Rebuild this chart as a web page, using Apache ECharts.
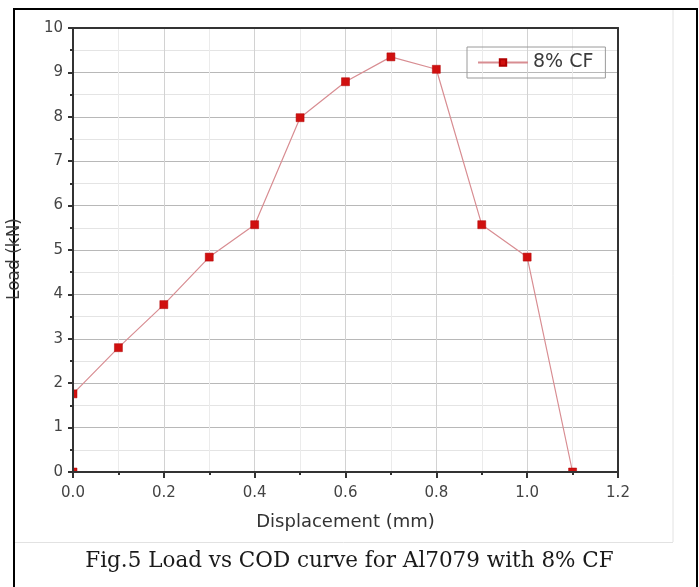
<!DOCTYPE html>
<html>
<head>
<meta charset="utf-8">
<script src="https://cdn.jsdelivr.net/npm/echarts@6/dist/echarts.min.js"></script>
<style>
html,body{margin:0;padding:0;background:#fff;}
#chart{width:699px;height:587px;}
</style>
</head>
<body>
<div id="chart"></div>
<script>
// ---- data ----
const seriesName = '8% CF';
const displacement = [0, 0, 0.1, 0.2, 0.3, 0.4, 0.5, 0.6, 0.7, 0.8, 0.9, 1.0, 1.1];
const load = [0, 1.76, 2.80, 3.77, 4.84, 5.57, 7.98, 8.79, 9.35, 9.07, 5.57, 4.84, 0];
const xTitle = 'Displacement (mm)';
const yTitle = 'Load (kN)';
const caption = 'Fig.5 Load vs COD curve for Al7079 with 8% CF';
const xRange = [0, 1.2];
const yRange = [0, 10];

const points = displacement.map((d, i) => [d, load[i]]);

const FONT = 'DejaVu Sans';
const AXIS_COLOR = '#333';
const LABEL_COLOR = '#444';

const chart = echarts.init(document.getElementById('chart'), null, {renderer: 'canvas'});

const hidden = {show: false};

chart.setOption({
  backgroundColor: '#ffffff',
  animation: false,
  title: {
    text: caption,
    left: 'center',
    top: 545,
    textStyle: {fontFamily: 'DejaVu Serif', fontSize: 21.5, fontWeight: 'normal', color: '#1a1a1a'}
  },
  legend: {
    data: [seriesName],
    left: 467,
    top: 47,
    padding: [6, 12, 6, 10],
    itemWidth: 50,
    itemHeight: 8,
    itemGap: 5,
    borderColor: '#9a9a9a',
    borderWidth: 1,
    borderRadius: 0,
    textStyle: {fontFamily: FONT, fontSize: 19, color: '#3a3a3a'}
  },
  grid: {left: 73, top: 28, right: 81, bottom: 115, containLabel: false},
  xAxis: [
    { // grid lines
      type: 'value', min: xRange[0], max: xRange[1], interval: 0.2, position: 'bottom', z: 0,
      axisLine: hidden, axisTick: hidden, axisLabel: hidden,
      splitLine: {show: true, lineStyle: {color: '#d2d2d2', width: 1}},
      minorTick: {show: false, splitNumber: 2},
      minorSplitLine: {show: true, lineStyle: {color: '#ebebeb', width: 1}}
    },
    { // visible bottom axis
      type: 'value', min: xRange[0], max: xRange[1], interval: 0.2, position: 'bottom', z: 20,
      name: xTitle, nameLocation: 'middle', nameGap: 41,
      nameTextStyle: {fontFamily: FONT, fontSize: 18, color: '#333'},
      axisLine: {show: true, onZero: false, lineStyle: {color: AXIS_COLOR, width: 2}},
      axisTick: {show: true, length: 6, lineStyle: {color: AXIS_COLOR, width: 2}},
      minorTick: {show: true, splitNumber: 2, length: 3, lineStyle: {color: AXIS_COLOR, width: 2}},
      axisLabel: {show: true, margin: 14, fontFamily: FONT, fontSize: 15, color: LABEL_COLOR,
        formatter: v => v.toFixed(1)},
      splitLine: hidden, minorSplitLine: hidden
    },
    { // top frame
      type: 'value', min: xRange[0], max: xRange[1], interval: 0.2, position: 'top', z: 20,
      axisLine: {show: true, onZero: false, lineStyle: {color: AXIS_COLOR, width: 2}},
      axisTick: hidden, axisLabel: hidden, splitLine: hidden
    }
  ],
  yAxis: [
    { // grid lines
      type: 'value', min: yRange[0], max: yRange[1], interval: 1, position: 'left', z: 0,
      axisLine: hidden, axisTick: hidden, axisLabel: hidden,
      splitLine: {show: true, lineStyle: {color: '#b8b8b8', width: 1}},
      minorTick: {show: false, splitNumber: 2},
      minorSplitLine: {show: true, lineStyle: {color: '#e4e4e4', width: 1}}
    },
    { // visible left axis
      type: 'value', min: yRange[0], max: yRange[1], interval: 1, position: 'left', z: 20,
      axisLine: {show: true, onZero: false, lineStyle: {color: AXIS_COLOR, width: 2}},
      axisTick: {show: true, length: 5, lineStyle: {color: AXIS_COLOR, width: 2}},
      minorTick: {show: true, splitNumber: 2, length: 3, lineStyle: {color: AXIS_COLOR, width: 2}},
      axisLabel: {show: true, margin: 10, fontFamily: FONT, fontSize: 15, color: LABEL_COLOR},
      splitLine: hidden, minorSplitLine: hidden
    },
    { // right frame
      type: 'value', min: yRange[0], max: yRange[1], interval: 1, position: 'right', z: 20,
      axisLine: {show: true, onZero: false, lineStyle: {color: AXIS_COLOR, width: 2}},
      axisTick: hidden, axisLabel: hidden, splitLine: hidden
    }
  ],
  series: [{
    name: seriesName,
    type: 'line',
    xAxisIndex: 0,
    yAxisIndex: 0,
    data: points,
    z: 2,
    symbol: 'rect',
    symbolSize: 8,
    lineStyle: {color: '#d88d92', width: 1.2},
    itemStyle: {color: '#d0100f', borderColor: '#b00000', borderWidth: 0.5},
    emphasis: {disabled: true}
  }],
  graphic: [
    // masks to clip markers at plot edges (drawn above series, below axes)
    {type: 'rect', z: 10, silent: true, shape: {x: 60, y: 20, width: 12.5, height: 462}, style: {fill: '#fff'}},
    {type: 'rect', z: 10, silent: true, shape: {x: 60, y: 472.5, width: 568, height: 10}, style: {fill: '#fff'}},
    // image frame lines
    {type: 'line', z: 1, silent: true, shape: {x1: 673, y1: 9, x2: 673, y2: 542}, style: {stroke: '#e2e2e2', lineWidth: 1}},
    {type: 'line', z: 1, silent: true, shape: {x1: 14, y1: 542.5, x2: 673, y2: 542.5}, style: {stroke: '#e2e2e2', lineWidth: 1}},
    {type: 'polyline', z: 30, silent: true, shape: {points: [[14, 595], [14, 9], [697, 9], [697, 595]]},
      style: {stroke: '#000', lineWidth: 2, fill: null}},
    // y axis title
    {type: 'text', z: 30, silent: true, x: 15, y: 259, rotation: Math.PI / 2,
      style: {text: yTitle, fontFamily: FONT, fontSize: 17, fill: '#3a3a3a', align: 'center', verticalAlign: 'middle'}}
  ]
});
</script>
</body>
</html>
